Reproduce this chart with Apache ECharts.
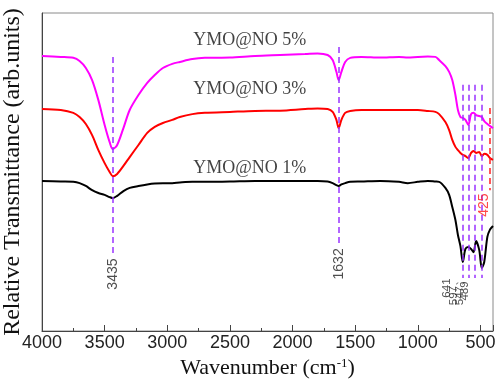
<!DOCTYPE html>
<html>
<head>
<meta charset="utf-8">
<script src="https://cdn.jsdelivr.net/npm/echarts@6/dist/echarts.min.js"></script>
<style>
    html, body { margin: 0; padding: 0; background: #fff; }
    #ftir-chart { width: 498px; height: 381px; }
</style>
</head>
<body>
<div id="ftir-chart"></div>
<script>
// 波数 (cm-1)
var wavenumbers = [4000, 3850, 3750, 3700, 3650, 3600, 3550, 3500, 3460, 3435, 3400, 3350, 3300, 3230, 3160, 3100, 3035, 2960, 2900, 2800,
    2700, 2500, 2300, 2100, 1900, 1800, 1720, 1680, 1650, 1632, 1610, 1580, 1540, 1450, 1300, 1150, 1080, 1000, 920, 860,
    830, 780, 750, 725, 700, 680, 660, 641, 620, 597, 575, 555, 535, 510, 489, 470, 445, 425, 400];

// 相对透过率
var ymo5 = [86.5, 86.2, 85.9, 84.9, 82.7, 78.9, 72.6, 64.8, 59.4, 57.2, 58.5, 63.8, 69.5, 74.2, 78.0, 80.5, 82.7, 84.0, 84.6, 85.5,
    85.9, 86.0, 86.5, 86.8, 87.1, 87.3, 86.8, 85.2, 81.5, 78.9, 81.5, 84.6, 85.9, 86.2, 86.0, 86.2, 86.0, 86.2, 86.3, 86.2,
    85.2, 83.3, 81.5, 78.9, 74.2, 69.5, 67.3, 67.0, 66.4, 64.8, 68.2, 68.6, 67.9, 67.6, 67.3, 66.0, 65.1, 64.5, 63.8];
var ymo3 = [69.8, 69.5, 68.6, 67.3, 65.1, 61.6, 56.9, 52.8, 50.0, 48.7, 49.4, 51.9, 54.7, 58.5, 62.3, 64.2, 65.4, 66.4, 67.3, 68.2,
    68.6, 68.9, 69.2, 69.3, 69.8, 70.0, 69.8, 68.9, 66.4, 63.8, 66.4, 68.6, 69.2, 69.5, 69.5, 69.5, 69.5, 69.5, 69.2, 68.9,
    68.2, 65.7, 63.2, 60.1, 57.9, 56.9, 56.0, 55.4, 55.0, 54.4, 56.0, 56.6, 56.0, 56.3, 55.0, 55.7, 55.4, 54.4, 53.8];
var ymo1 = [47.2, 47.0, 46.9, 46.5, 45.6, 44.3, 43.4, 42.8, 42.1, 41.8, 42.5, 44.0, 45.0, 45.6, 46.1, 46.4, 46.5, 46.5, 46.7, 46.9,
    46.9, 47.0, 47.2, 47.2, 47.2, 47.2, 47.0, 46.5, 45.9, 45.6, 46.1, 46.5, 46.9, 47.0, 47.2, 46.9, 46.5, 46.9, 47.2, 47.0,
    46.9, 45.0, 42.8, 39.0, 34.9, 30.2, 26.7, 21.7, 25.8, 26.4, 25.8, 24.8, 28.3, 25.5, 19.8, 21.7, 29.6, 31.8, 33.0];

var seriesNames = ['YMO@NO 5%', 'YMO@NO 3%', 'YMO@NO 1%'];
var peaks = [3435, 1632, 641, 597, 547, 489];
var peakTexts = ['3435', '1632', '641', '597、', '547、', '489'];
var peak425 = 425;

var serif = 'Liberation Serif';
var sans = 'Liberation Sans';

function pairs(ys) {
    return wavenumbers.map(function (w, i) { return [w, ys[i]]; });
}

// 虚线范围 [起点, 终点]
var lineSpan = [[86.2, 24.5], [89.3, 27.7], [77.4, 16.7], [77.4, 16.7], [77.4, 16.7], [77.4, 16.7]];
var peakLines = peaks.map(function (w, i) {
    return [{ coord: [w, lineSpan[i][0]] }, { coord: [w, lineSpan[i][1]] }];
});
var redLine = [{ coord: [peak425, 70.1], lineStyle: { color: '#ff2020', type: [6, 4], width: 1.5 } }, { coord: [peak425, 44.3] }];

// 峰值标注位置
var peakLabelX = [3435, 1632, 771, 715, 662, 622];
var peakLabelY = [17.9, 21.1, 13.5, 13.0, 13.0, 12.6];
var peakLabelData = peaks.map(function (w, i) {
    return {
        value: [peakLabelX[i], peakLabelY[i]],
        label: {
            formatter: peakTexts[i],
            fontSize: i < 2 ? 14 : 11.5
        }
    };
});
peakLabelData.push({
    value: [468, 39.6],
    label: { formatter: String(peak425), fontSize: 14, color: '#ff1a1a' }
});

var nameY = [91.5, 76.1, 51.3];
var nameData = seriesNames.map(function (n, i) {
    return { value: [2342, nameY[i]], label: { formatter: n } };
});

var myChart = echarts.init(document.getElementById('ftir-chart'));
myChart.setOption({
    animation: false,
    grid: {
        left: 42,
        right: 5,
        top: 13,
        bottom: 50,
        outerBoundsMode: 'none',
        containLabel: false,
        show: true,
        borderColor: '#8a8a8a',
        borderWidth: 1
    },
    xAxis: {
        type: 'value',
        inverse: true,
        min: 400,
        max: 4000,
        splitNumber: 7,
        name: '{t|Wavenumber (cm}{s|-1}{t|)}',
        nameLocation: 'middle',
        nameGap: 19,
        nameTextStyle: {
            rich: {
                t: { fontFamily: serif, fontSize: 22, color: '#111' },
                s: { fontFamily: serif, fontSize: 13, color: '#111', verticalAlign: 'top' }
            }
        },
        axisLine: { lineStyle: { color: '#444', width: 1 } },
        axisTick: { inside: true, length: 6, lineStyle: { color: '#444' } },
        minorTick: { show: true, splitNumber: 2, length: 3, lineStyle: { color: '#444' } },
        splitLine: { show: false },
        axisLabel: {
            showMinLabel: false,
            margin: 3,
            fontFamily: sans,
            fontSize: 18,
            color: '#222',
            formatter: function (v) { return String(v); }
        }
    },
    yAxis: {
        type: 'value',
        min: 0,
        max: 100,
        name: 'Relative Transmittance (arb.units)',
        nameLocation: 'middle',
        nameGap: 17,
        nameTextStyle: { fontFamily: serif, fontSize: 24, color: '#111' },
        axisLine: { show: true, lineStyle: { color: '#444' } },
        axisTick: { show: false },
        axisLabel: { show: false },
        splitLine: { show: false }
    },
    series: [
        {
            name: seriesNames[0],
            type: 'line',
            data: pairs(ymo5),
            showSymbol: false,
            smooth: 0.3,
            lineStyle: { color: '#ff00ff', width: 2 },
            itemStyle: { color: '#ff00ff' }
        },
        {
            name: seriesNames[1],
            type: 'line',
            data: pairs(ymo3),
            showSymbol: false,
            smooth: 0.3,
            lineStyle: { color: '#ff0000', width: 2 },
            itemStyle: { color: '#ff0000' }
        },
        {
            name: seriesNames[2],
            type: 'line',
            data: pairs(ymo1),
            showSymbol: false,
            smooth: 0.3,
            lineStyle: { color: '#000', width: 2 },
            itemStyle: { color: '#000' },
            markLine: {
                silent: true,
                symbol: 'none',
                label: { show: false },
                lineStyle: { color: '#9933ff', type: [6, 4], width: 1.5 },
                data: peakLines.concat([redLine])
            }
        },
        {
            // 峰位标注
            type: 'scatter',
            silent: true,
            symbolSize: 0,
            data: peakLabelData,
            label: {
                show: true,
                position: 'inside',
                rotate: 90,
                fontFamily: sans,
                color: '#222'
            },
            z: 5
        },
        {
            // 样品名称
            type: 'scatter',
            silent: true,
            symbolSize: 0,
            data: nameData,
            label: {
                show: true,
                position: 'inside',
                fontFamily: serif,
                fontSize: 18,
                color: '#111'
            },
            z: 5
        }
    ]
});
</script>
</body>
</html>
